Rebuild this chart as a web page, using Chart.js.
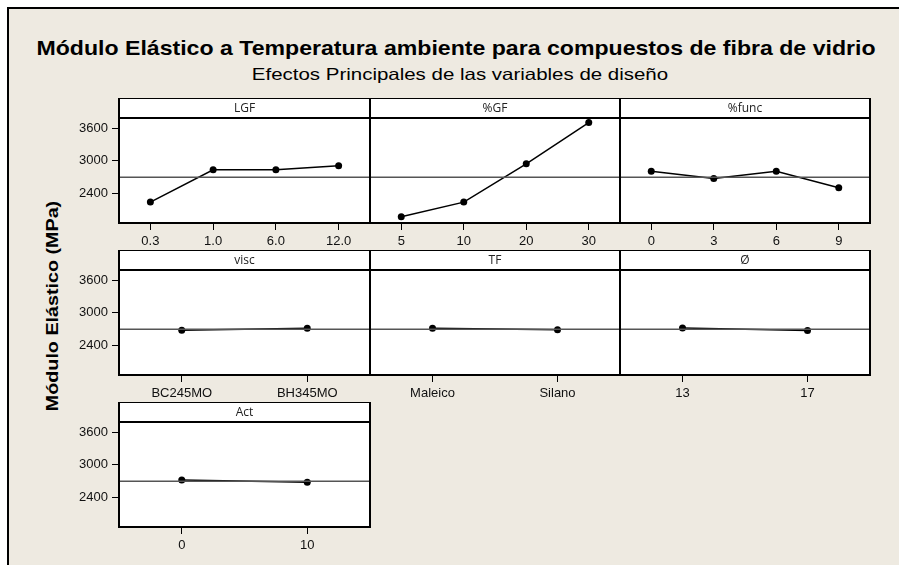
<!DOCTYPE html>
<html>
<head>
<meta charset="utf-8">
<script src="https://cdn.jsdelivr.net/npm/chart.js@4"></script>
<style>
  body { margin: 0; background: #fff; width: 899px; height: 567px; overflow: hidden; position: relative; font-family: "Liberation Sans", Arial, sans-serif; }
  #frame { position: absolute; left: 7px; top: 7px; width: 900px; height: 556px; background: #eeeae1; border-top: 2px solid #000; border-left: 2px solid #000; }
  .txt { position: absolute; color: #000; white-space: nowrap; }
  #title { left: 456px; top: 37px; font-weight: bold; font-size: 21px; line-height: 21px; transform: translateX(-50%) scaleX(1.1); }
  #subtitle { left: 460px; top: 65.5px; font-size: 16.5px; line-height: 16.5px; transform: translateX(-50%) scaleX(1.24); }
  #ytitle { left: 52px; top: 306px; font-weight: bold; font-size: 17px; line-height: 17px; transform: translate(-50%, -50%) rotate(-90deg) scaleX(1.16); }
  canvas { position: absolute; }
</style>
</head>
<body>
<div id="frame"></div>
<div class="txt" id="title">Módulo Elástico a Temperatura ambiente para compuestos de fibra de vidrio</div>
<div class="txt" id="subtitle">Efectos Principales de las variables de diseño</div>
<div class="txt" id="ytitle">Módulo Elástico (MPa)</div>
<script>
// data
const MEAN = 2700;
const Y_TICKS = [2400, 3000, 3600];

const LGF_CATS = ['0.3', '1.0', '6.0', '12.0'];
const LGF_VALS = [2240, 2835, 2835, 2910];
const GF_CATS = ['5', '10', '20', '30'];
const GF_VALS = [1970, 2240, 2945, 3705];
const FUNC_CATS = ['0', '3', '6', '9'];
const FUNC_VALS = [2810, 2675, 2810, 2505];
const VISC_CATS = ['BC245MO', 'BH345MO'];
const VISC_VALS = [2680, 2715];
const TF_CATS = ['Maleico', 'Silano'];
const TF_VALS = [2715, 2690];
const DIAM_CATS = ['13', '17'];
const DIAM_VALS = [2720, 2675];
const ACT_CATS = ['0', '10'];
const ACT_VALS = [2720, 2680];

const PANELS = [
  { name: 'LGF', cats: LGF_CATS, vals: LGF_VALS },
  { name: '%GF', cats: GF_CATS, vals: GF_VALS },
  { name: '%func', cats: FUNC_CATS, vals: FUNC_VALS },
  { name: 'visc', cats: VISC_CATS, vals: VISC_VALS },
  { name: 'TF', cats: TF_CATS, vals: TF_VALS },
  { name: 'Ø', cats: DIAM_CATS, vals: DIAM_VALS },
  { name: 'Act', cats: ACT_CATS, vals: ACT_VALS },
];

const COL_LEFT = [119, 370, 620];
const COL_WIDTH = [251, 250, 250];
const ROW_TOP = [98, 250, 402];
const HEADER_H = 20;
const PLOT_H = 105;
const AXIS_W = 60;
const XAXIS_H = 32;
const PAD_R = 6; // room for the point overflow chart.js reserves on the right

const panelFrame = {
  id: 'panelFrame',
  beforeDraw(chart, args, opts) {
    const a = chart.chartArea;
    const ctx = chart.ctx;
    ctx.save();
    ctx.fillStyle = '#fff';
    ctx.fillRect(a.left, a.top - HEADER_H, a.right - a.left, a.bottom - a.top + HEADER_H);
    ctx.restore();
  },
  afterDraw(chart, args, opts) {
    const a = chart.chartArea;
    const ctx = chart.ctx;
    ctx.save();
    ctx.strokeStyle = '#000';
    ctx.lineWidth = 2;
    ctx.strokeRect(a.left, a.top - HEADER_H, a.right - a.left, a.bottom - a.top + HEADER_H);
    ctx.beginPath();
    ctx.moveTo(a.left, a.top);
    ctx.lineTo(a.right, a.top);
    ctx.stroke();
    ctx.fillStyle = '#222';
    ctx.font = '12px "Open Sans"';
    ctx.textAlign = 'center';
    ctx.textBaseline = 'middle';
    ctx.fillText(opts.label, (a.left + a.right) / 2, a.top - HEADER_H / 2 + 1);
    ctx.restore();
  },
};

function make_panel(panel, idx) {
  const col = idx % 3;
  const row = Math.floor(idx / 3);
  const canvas = document.createElement('canvas');
  const w = AXIS_W + COL_WIDTH[col] + PAD_R;
  const h = HEADER_H + PLOT_H + XAXIS_H;
  canvas.width = w;
  canvas.height = h;
  canvas.style.left = (COL_LEFT[col] - AXIS_W) + 'px';
  canvas.style.top = ROW_TOP[row] + 'px';
  canvas.style.width = w + 'px';
  canvas.style.height = h + 'px';
  document.body.appendChild(canvas);

  const n = panel.cats.length;
  const points = panel.vals.map((v, i) => ({ x: i, y: v }));
  const showY = col === 0;

  new Chart(canvas, {
    type: 'line',
    data: {
      datasets: [
        {
          data: [{ x: -0.5, y: MEAN }, { x: n - 0.5, y: MEAN }],
          borderColor: '#555',
          borderWidth: 1.5,
          pointRadius: 0,
        },
        {
          data: points,
          borderColor: '#000',
          borderWidth: 1.5,
          pointRadius: 3.5,
          pointBackgroundColor: '#000',
          pointBorderWidth: 0,
        },
      ],
    },
    options: {
      responsive: false,
      animation: false,
      events: [],
      layout: { padding: { top: HEADER_H, right: PAD_R, bottom: 0, left: showY ? 0 : AXIS_W } },
      plugins: { legend: { display: false }, tooltip: { enabled: false }, panelFrame: { label: panel.name } },
      scales: {
        x: {
          type: 'linear',
          min: -0.5,
          max: n - 0.5,
          afterBuildTicks: (s) => { s.ticks = panel.cats.map((c, i) => ({ value: i })); },
          afterFit: (s) => { s.height = XAXIS_H; },
          ticks: {
            callback: (v) => panel.cats[v],
            color: '#111',
            font: { family: '"Liberation Sans", Arial', size: 13 },
            padding: 4,
            maxRotation: 0,
            autoSkip: false,
          },
          grid: { drawOnChartArea: false, drawTicks: true, tickLength: 7, color: '#000', lineWidth: 1 },
          border: { display: false },
        },
        y: {
          display: showY,
          min: 1855,
          max: 3790,
          afterBuildTicks: (s) => { s.ticks = Y_TICKS.map((v) => ({ value: v })); },
          afterFit: (s) => { if (showY) s.width = AXIS_W; },
          ticks: {
            callback: (v) => String(v),
            color: '#111',
            font: { family: '"Liberation Sans", Arial', size: 13 },
            padding: 4,
          },
          grid: { drawOnChartArea: false, drawTicks: true, tickLength: 7, color: '#000', lineWidth: 1 },
          border: { display: false },
        },
      },
    },
    plugins: [panelFrame],
  });
}

PANELS.forEach(make_panel);
</script>
</body>
</html>
